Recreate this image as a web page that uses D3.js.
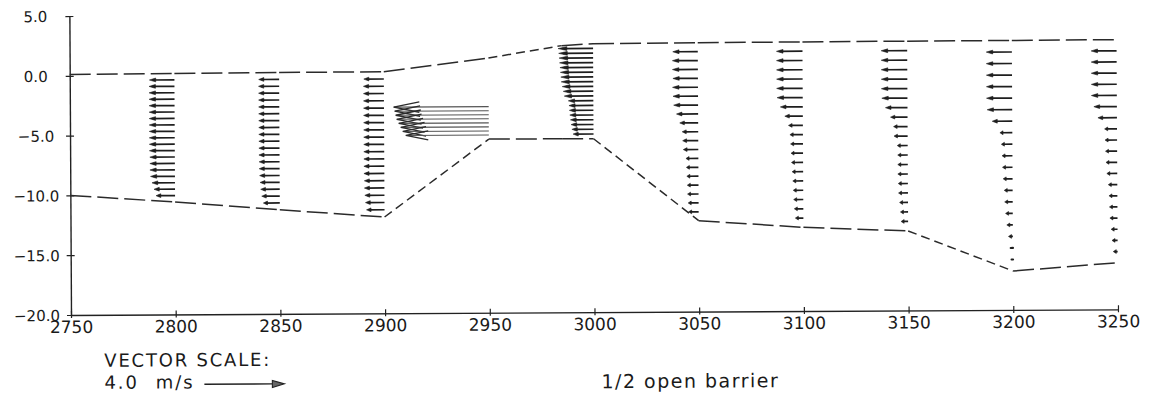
<!DOCTYPE html>
<html>
<head>
<meta charset="utf-8">
<script src="https://cdn.jsdelivr.net/npm/d3@7"></script>
<style>
  html, body { margin: 0; padding: 0; background: #fff; }
  svg { display: block; }
  text { font-family: "DejaVu Sans", sans-serif; fill: #1a1a1a; }
</style>
</head>
<body>
<svg id="chart" width="1150" height="399"></svg>
<script>
// ---------- data ----------
const xTicks = [2750, 2800, 2850, 2900, 2950, 3000, 3050, 3100, 3150, 3200, 3250];
const yTicks = [5, 0, -5, -10, -15, -20];

// boundary lines (water surface and bed), elevation in m
const boundaryX = [2750, 2800, 2850, 2900, 2950, 2985, 3000, 3050, 3100, 3150, 3200, 3250];
const surfaceZ  = [0.1, 0.15, 0.18, 0.2, 1.3, 2.3, 2.45, 2.48, 2.5, 2.52, 2.53, 2.55];
const bottomZ   = [-10.0, -10.6, -11.3, -11.95, -5.48, -5.49, -5.5, -12.4, -13.0, -13.35, -16.75, -16.1];

// velocity profiles (m/s, negative = flow to the left), top to bottom, 19 sigma levels
const stations = [2800, 2850, 2900, 2950, 3000, 3050, 3100, 3150, 3200, 3250];
const u2800 = [-1.25,-1.27,-1.27,-1.27,-1.27,-1.27,-1.27,-1.27,-1.27,-1.27,-1.27,-1.27,-1.25,-1.25,-1.25,-1.22,-1.15,-1.05,-0.95];
const u2850 = [-1.02,-1.03,-1.03,-1.03,-1.03,-1.03,-1.03,-1.03,-1.03,-1.03,-1.03,-1.03,-1.02,-1.02,-1.0,-0.98,-0.95,-0.9,-0.82];
const u2900 = [-1.0,-1.02,-1.02,-1.02,-1.02,-1.02,-1.02,-1.02,-1.02,-1.02,-1.02,-1.02,-1.02,-1.02,-1.0,-1.0,-0.98,-0.95,-0.9];
const u2950 = [null,null,null,null,null,null,null,null,null,null,null,-4.75,-4.7,-4.65,-4.6,-4.5,-4.4,-4.3,-4.15];
const u3000 = [-1.75,-1.72,-1.7,-1.68,-1.66,-1.64,-1.62,-1.6,-1.55,-1.5,-1.45,-1.25,-1.22,-1.2,-1.18,-1.15,-1.12,-1.08,-1.02];
const u3050 = [-1.25,-1.27,-1.27,-1.25,-1.27,-1.25,-1.22,-1.08,-0.92,-0.8,-0.78,-0.75,-0.62,-0.6,-0.58,-0.56,-0.55,-0.52,-0.5];
const u3100 = [-1.3,-1.3,-1.3,-1.3,-1.3,-1.28,-1.12,-0.9,-0.72,-0.65,-0.62,-0.6,-0.58,-0.55,-0.52,-0.5,-0.48,-0.45,-0.4];
const u3150 = [-1.3,-1.3,-1.3,-1.3,-1.3,-1.28,-1.1,-0.85,-0.7,-0.68,-0.52,-0.5,-0.5,-0.5,-0.48,-0.47,-0.42,-0.38,-0.35];
const u3200 = [-1.28,-1.28,-1.28,-1.28,-1.28,-1.25,-1.0,-0.62,-0.55,-0.52,-0.5,-0.47,-0.42,-0.4,-0.36,-0.3,-0.22,-0.16,-0.12];
const u3250 = [-1.27,-1.27,-1.27,-1.27,-1.27,-1.15,-0.95,-0.62,-0.6,-0.58,-0.56,-0.52,-0.45,-0.42,-0.4,-0.38,-0.32,-0.28,-0.22];
const profiles = [u2800, u2850, u2900, u2950, u3000, u3050, u3100, u3150, u3200, u3250];
const sigmaLayers = 20;

const legendSpeed = 4.0;
const legendTitle = "VECTOR SCALE:";
const legendLabel = "4.0 m/s";
const caption = "1/2 open barrier";

// ---------- drawing ----------
const svg = d3.select("#chart");
const g = svg.append("g").attr("transform", "rotate(-0.31 71 315)");

const x = d3.scaleLinear().domain([2750, 3250]).range([71, 1118]);
const y = d3.scaleLinear().domain([-20, 5]).range([315, 16]);
const vs = d3.scaleLinear().domain([0, 4]).range([0, 80]);

// axes
const xAxis = g.append("g").attr("transform", `translate(0,${y(-20)})`)
  .call(d3.axisBottom(x).tickValues(xTicks).tickSizeOuter(0).tickSizeInner(4).tickFormat(d3.format("d")));
xAxis.select(".domain").attr("stroke", "#222").attr("stroke-width", 1.4);
xAxis.selectAll(".tick line").attr("y1", -4).attr("y2", 3).attr("stroke", "#222").attr("stroke-width", 1.2);
xAxis.selectAll(".tick text").attr("y", 18).attr("dy", 0)
  .style("font-size", "17px").style("font-family", "DejaVu Sans, sans-serif").attr("fill", "#1a1a1a");

const yAxis = g.append("g").attr("transform", `translate(${x(2750)},0)`)
  .call(d3.axisLeft(y).tickValues(yTicks).tickSizeOuter(0).tickSizeInner(4).tickFormat(d3.format(".1f")));
yAxis.select(".domain").attr("stroke", "#222").attr("stroke-width", 1.4);
yAxis.selectAll(".tick line").attr("x1", -4).attr("x2", 4).attr("stroke", "#222").attr("stroke-width", 1.2);
yAxis.selectAll(".tick text").attr("x", -34).attr("text-anchor", "middle").attr("dy", "0.36em")
  .style("font-size", "15px").style("font-family", "DejaVu Sans, sans-serif").attr("fill", "#1a1a1a");

// boundary lines drawn segment by segment
function drawBoundary(zs) {
  for (let i = 0; i < boundaryX.length - 1; i++) {
    const x0 = x(boundaryX[i]), y0 = y(zs[i]), x1 = x(boundaryX[i + 1]), y1 = y(zs[i + 1]);
    const steep = Math.abs((y1 - y0) / (x1 - x0)) > 0.15;
    g.append("line")
      .attr("x1", x0).attr("y1", y0).attr("x2", x1).attr("y2", y1)
      .attr("stroke", "#2a2a2a").attr("stroke-width", 1.5)
      .attr("stroke-dasharray", steep ? "9,5" : "21,6");
  }
}
drawBoundary(surfaceZ);
drawBoundary(bottomZ);

// vectors
const arrows = g.append("g");
function arrow(x0, y0, len, dir) {
  const x1 = x0 + dir * len;
  if (len < 4) {
    arrows.append("line").attr("x1", x0).attr("y1", y0).attr("x2", x1 - dir * 1).attr("y2", y0)
      .attr("stroke", "#1e1e1e").attr("stroke-width", 2.2).attr("stroke-linecap", "round");
    return;
  }
  if (len > 60) {
    // long vectors: thin shaft with open barbs
    const hl = len * 0.27, hw = len * 0.055;
    arrows.append("line").attr("x1", x0).attr("y1", y0).attr("x2", x1).attr("y2", y0)
      .attr("stroke", "#555").attr("stroke-width", 1.1);
    arrows.append("path")
      .attr("d", `M${x1 - dir * hl},${y0 - hw}L${x1},${y0}L${x1 - dir * hl},${y0 + hw}`)
      .attr("fill", "none").attr("stroke", "#2a2a2a").attr("stroke-width", 1.3);
    return;
  }
  const hl = Math.max(3, len * 0.25);
  const hw = Math.max(1.9, len * 0.05);
  arrows.append("line").attr("x1", x0).attr("y1", y0).attr("x2", x1 - dir * hl * 0.5).attr("y2", y0)
    .attr("stroke", "#1e1e1e").attr("stroke-width", 1.7);
  arrows.append("path")
    .attr("d", `M${x1},${y0}L${x1 - dir * hl},${y0 - hw}L${x1 - dir * hl},${y0 + hw}Z`)
    .attr("fill", "#1e1e1e").attr("stroke", "#1e1e1e").attr("stroke-width", 0.6);
}

stations.forEach((s, i) => {
  const bi = boundaryX.indexOf(s);
  const top = surfaceZ[bi], bot = bottomZ[bi];
  const dz = (top - bot) / sigmaLayers;
  profiles[i].forEach((u, k) => {
    if (u === null) return;
    const z = top - (k + 1) * dz;
    arrow(x(s), y(z), vs(Math.abs(u)), Math.sign(u));
  });
});

// legend
g.append("text").attr("x", 104).attr("y", 367).text(legendTitle)
  .style("font-size", "18px").style("letter-spacing", "1.8px");
g.append("text").attr("x", 104).attr("y", 389).text(legendLabel)
  .style("font-size", "18px").style("letter-spacing", "2px").style("word-spacing", "9px");
const lx0 = 204, ly = 385, lx1 = lx0 + vs(legendSpeed);
g.append("line").attr("x1", lx0).attr("y1", ly).attr("x2", lx1 - 12).attr("y2", ly)
  .attr("stroke", "#222").attr("stroke-width", 1.4);
g.append("path").attr("d", `M${lx1},${ly}L${lx1 - 12},${ly - 3.5}L${lx1 - 12},${ly + 3.5}Z`)
  .attr("fill", "#666").attr("stroke", "#222").attr("stroke-width", 1.1);

g.append("text").attr("x", 690).attr("y", 391).attr("text-anchor", "middle").text(caption)
  .style("font-size", "19px").style("letter-spacing", "1.5px");
</script>
</body>
</html>
